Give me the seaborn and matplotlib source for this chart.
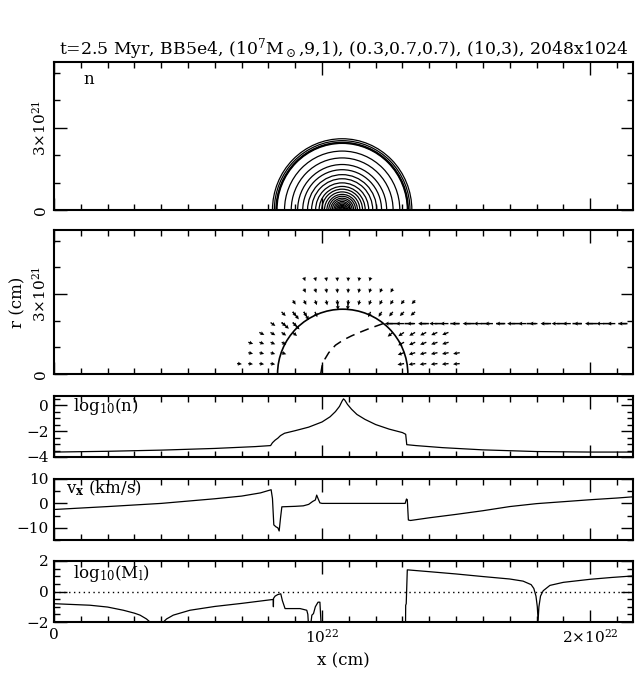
import numpy as np
import pandas as pd
import matplotlib
matplotlib.use("Agg")
import matplotlib.pyplot as plt
from matplotlib.patches import Arc
from matplotlib.ticker import MultipleLocator, FixedLocator, FixedFormatter
import seaborn as sns

# ------------------------------------------------------------------ data
TITLE = r"t=2.5 Myr, BB5e4, (10$^7$M$_\odot$,9,1), (0.3,0.7,0.7), (10,3), 2048x1024"
X_MAX = 2.16e22
R_MAX = 5.4e21

# panel 1 : density contours (rings about the cloud centre), radii in 1e21 cm
CLOUD_X = 1.075e22
CONTOUR_RADII = [2.60, 2.53, 2.47, 2.45, 2.43, 2.15, 1.90, 1.66, 1.47, 1.29,
                 1.14, 0.99, 0.86, 0.76, 0.66, 0.57, 0.50, 0.43, 0.37, 0.31,
                 0.26, 0.21, 0.17, 0.13, 0.10, 0.07]

# panel 2 : shell (solid), tracer front (dashed), velocity arrows
BUBBLE_X = 1.077e22
BUBBLE_R = 2.43e21
FRONT_X = [0.995, 1.000, 1.010, 1.025, 1.050, 1.080, 1.110, 1.140, 1.170, 1.200, 1.228, 2.16]   # 1e22 cm
FRONT_R = [0.00, 0.30, 0.55, 0.80, 1.08, 1.28, 1.43, 1.56, 1.68, 1.79, 1.89, 1.89]              # 1e21 cm
ARROW_STEP = 0.0415          # grid spacing of arrows, 1e22 cm
# (row r [1e21], first x [1e22], last x [1e22], arrow length [1e21])
ARROW_SPANS = [
    (0.39, 0.683, 0.808, 0.18), (0.39, 1.306, 1.513, 0.25),
    (0.80, 0.725, 0.849, 0.18), (0.80, 1.306, 1.513, 0.25),
    (1.19, 0.725, 0.849, 0.19), (1.19, 1.306, 1.472, 0.25),
    (1.56, 0.766, 0.891, 0.21), (1.56, 1.264, 1.472, 0.25),
    (1.93, 0.808, 0.891, 0.22),
    (2.33, 0.849, 0.974, 0.22), (2.33, 1.181, 1.347, 0.22),
    (2.76, 0.891, 1.349, 0.19),
    (3.20, 0.932, 1.266, 0.17),
    (3.62, 0.932, 1.183, 0.15),
]
SHELL_ARROW_X = [0.849, 0.891, 0.891, 0.932, 1.057, 1.098]
SHELL_ARROW_R = [1.93, 1.93, 2.33, 2.33, 2.76, 2.76]
SHELL_ARROW_LEN = 0.36
STREAK_R = 1.89
STREAK_X0, STREAK_X1 = 1.264, 2.135
STREAK_LEN = 0.30

# panel 3 : log10(n) along the axis
LOGN_X = [0, 0.2, 0.4, 0.6, 0.75, 0.808, 0.815, 0.825, 0.835, 0.845, 0.86, 0.9,
          0.95, 1.0, 1.03, 1.05, 1.065, 1.075, 1.08, 1.085, 1.095, 1.11, 1.13,
          1.16, 1.2, 1.25, 1.3, 1.312, 1.316, 1.35, 1.45, 1.6, 1.8, 2.0, 2.16]
LOGN_Y = [-3.62, -3.56, -3.47, -3.34, -3.2, -3.12, -2.9, -2.7, -2.55, -2.35, -2.17, -1.97,
          -1.7, -1.3, -0.9, -0.5, -0.1, 0.32, 0.48, 0.38, 0.05, -0.32, -0.72,
          -1.1, -1.5, -1.85, -2.12, -2.25, -3.05, -3.12, -3.28, -3.45, -3.58, -3.62, -3.62]

# panel 4 : v_x (km/s)
VX_X = [0, 0.2, 0.4, 0.6, 0.7, 0.77, 0.81, 0.815, 0.82, 0.828, 0.835, 0.84, 0.845,
        0.85, 0.9, 0.93, 0.95, 0.965, 0.975, 0.98, 0.985, 0.992, 1.0, 1.1, 1.2,
        1.31, 1.315, 1.318, 1.322, 1.33, 1.4, 1.5, 1.6, 1.7, 1.8, 1.9, 2.0, 2.1, 2.16]
VX_Y = [-2.5, -1.3, 0.0, 1.9, 3.0, 4.3, 5.6, 2.0, -8.8, -9.6, -10.0, -11.3, -6.0,
        -1.4, -1.2, -1.0, -0.4, 0.8, 1.4, 3.4, 2.0, 0.2, 0.0, 0.0, 0.0,
        0.0, 1.8, 1.5, -6.8, -7.0, -5.9, -4.5, -3.0, -1.3, -0.1, 0.7, 1.5, 2.2, 2.7]

# panel 5 : log10(M_l)
ML_X = [0, 0.134, 0.2, 0.259, 0.3, 0.321, 0.345, 0.358, 0.383, 0.408, 0.42, 0.445,
        0.507, 0.6, 0.7, 0.818, 0.8185, 0.819, 0.825, 0.835, 0.846, 0.852, 0.862,
        0.918, 0.943, 0.947, 0.952, 0.962, 0.968, 0.975, 0.985, 0.992, 0.999, 1.1,
        1.2, 1.311, 1.312, 1.314, 1.318, 1.4, 1.5, 1.6, 1.7, 1.75, 1.78, 1.79,
        1.798, 1.803, 1.806, 1.809, 1.815, 1.825, 1.85, 1.9, 2.0, 2.08, 2.16]
ML_Y = [-0.8, -0.9, -1.02, -1.23, -1.42, -1.55, -1.8, -2.0, -3.0, -2.0, -1.8, -1.55,
        -1.23, -0.98, -0.78, -0.52, -1.0, -0.45, -0.3, -0.2, -0.15, -0.6, -1.12,
        -1.12, -1.23, -1.5, -3.0, -1.55, -1.45, -1.0, -0.7, -0.7, -3.0, -3.0,
        -3.0, -3.0, -0.9, -0.8, 1.42, 1.3, 1.15, 0.98, 0.82, 0.68, 0.45, 0.2,
        -0.3, -1.0, -1.9, -1.0, -0.3, 0.05, 0.4, 0.6, 0.8, 0.92, 1.02]

# ------------------------------------------------------------------ style
sns.set_theme(style="ticks")
plt.rcParams["font.family"] = ["DejaVu Serif"]
plt.rcParams["mathtext.fontset"] = "dejavuserif"
plt.rcParams["axes.linewidth"] = 1.5
for key in ["text.color", "axes.labelcolor", "xtick.color", "ytick.color",
            "xtick.labelcolor", "ytick.labelcolor", "axes.edgecolor"]:
    plt.rcParams[key] = "black"
FS = 11

W, H = 635, 674
fig = plt.figure(figsize=(W / 100, H / 100), dpi=100)


def add_axes(top, bottom, left=54, right=633):
    return fig.add_axes([left / W, 1 - bottom / H, (right - left) / W, (bottom - top) / H])


panels = [add_axes(62, 210), add_axes(230, 374), add_axes(396, 457),
          add_axes(479, 540), add_axes(561, 622)]

for i, ax in enumerate(panels):
    ax.set_xlim(0, X_MAX)
    ax.xaxis.set_major_locator(FixedLocator([0, 1e22, 2e22]))
    ax.xaxis.set_minor_locator(MultipleLocator(1e21))
    ax.tick_params(which="both", direction="in", top=True, right=True,
                   width=1.0, colors="black", labelsize=FS, pad=4)
    ax.tick_params(which="major", length=9)
    ax.tick_params(which="minor", length=4.5)
    for s in ax.spines.values():
        s.set_color("black")
        s.set_linewidth(1.5)
    if i < 4:
        ax.tick_params(labelbottom=False)

# ---- panel 1
ax = panels[0]
ax.set_ylim(0, R_MAX)
for rad in CONTOUR_RADII:
    ax.add_patch(Arc((CLOUD_X, 0), 2 * rad * 1e21, 2 * rad * 1e21, theta1=0, theta2=180,
                     color="black", lw=0.9))
ax.text(0.06, 0.88, "n", transform=ax.transAxes, ha="center", va="center", fontsize=12)
ax.set_title(TITLE, fontsize=12.4, pad=5, color="black")

# ---- panel 2
ax = panels[1]
ax.set_ylim(0, R_MAX)
ax.add_patch(Arc((BUBBLE_X, 0), 2 * BUBBLE_R, 2 * BUBBLE_R, theta1=0, theta2=180,
                 color="black", lw=1.2))
front = pd.DataFrame({"x": np.array(FRONT_X) * 1e22, "r": np.array(FRONT_R) * 1e21})
sns.lineplot(data=front, x="x", y="r", sort=False, estimator=None, ax=ax,
             color="black", lw=1.1, dashes=False, linestyle=(0, (6, 4)))

qx, qr, qu, qv = [], [], [], []
for r, x0, x1, ln in ARROW_SPANS:
    xs = np.arange(x0, x1 + ARROW_STEP / 2, ARROW_STEP) * 1e22
    dx = BUBBLE_X - xs
    dy = -r * 1e21 * np.ones_like(xs)
    d = np.hypot(dx, dy)
    qx += list(xs); qr += [r * 1e21] * len(xs)
    qu += list(ln * 1e21 * dx / d); qv += list(ln * 1e21 * dy / d)
for x, r in zip(SHELL_ARROW_X, SHELL_ARROW_R):
    dx, dy = BUBBLE_X - x * 1e22, -r * 1e21
    d = np.hypot(dx, dy)
    qx.append(x * 1e22); qr.append(r * 1e21)
    qu.append(SHELL_ARROW_LEN * 1e21 * dx / d); qv.append(SHELL_ARROW_LEN * 1e21 * dy / d)
sx = np.arange(STREAK_X0, STREAK_X1 + ARROW_STEP / 2, ARROW_STEP) * 1e22
qx += list(sx); qr += [STREAK_R * 1e21] * len(sx)
qu += [-STREAK_LEN * 1e21] * len(sx); qv += [0.0] * len(sx)
ax.quiver(qx, qr, qu, qv, angles="xy", scale_units="xy", scale=1, units="dots",
          width=1.35, headwidth=3.0, headlength=3.0, headaxislength=2.6, color="black",
          clip_on=True)
ax.set_ylabel("r (cm)", fontsize=FS + 1, labelpad=3)

for ax in panels[:2]:
    ax.yaxis.set_major_locator(FixedLocator([0, 3e21]))
    ax.yaxis.set_major_formatter(FixedFormatter(["0", r"3$\times$10$^{21}$"]))
    ax.yaxis.set_minor_locator(MultipleLocator(1e21))
    for lab in ax.get_yticklabels():
        lab.set_rotation(90)
        lab.set_va("center")
    ax.set_xlabel("")

# ---- panel 3
ax = panels[2]
sns.lineplot(x=np.array(LOGN_X) * 1e22, y=LOGN_Y, sort=False, estimator=None, ax=ax,
             color="black", lw=0.9)
ax.set_ylim(-4, 0.7)
ax.yaxis.set_major_locator(MultipleLocator(2))
ax.yaxis.set_minor_locator(MultipleLocator(0.5))
ax.text(0.033, 0.83, r"log$_{10}$(n)", transform=ax.transAxes, ha="left", va="center",
        fontsize=FS + 1)

# ---- panel 4
ax = panels[3]
sns.lineplot(x=np.array(VX_X) * 1e22, y=VX_Y, sort=False, estimator=None, ax=ax,
             color="black", lw=0.9)
ax.set_ylim(-15, 10)
ax.yaxis.set_major_locator(MultipleLocator(10))
ax.yaxis.set_minor_locator(MultipleLocator(5))
ax.text(0.021, 0.84, r"v$_{\mathbf{x}}$ (km/s)", transform=ax.transAxes, ha="left",
        va="center", fontsize=FS + 1)

# ---- panel 5
ax = panels[4]
ax.axhline(0, color="black", lw=1.0, ls=(0, (1, 2.5)))
sns.lineplot(x=np.array(ML_X) * 1e22, y=ML_Y, sort=False, estimator=None, ax=ax,
             color="black", lw=0.9)
ax.set_ylim(-2, 2)
ax.yaxis.set_major_locator(MultipleLocator(2))
ax.yaxis.set_minor_locator(MultipleLocator(0.5))
ax.text(0.033, 0.80, r"log$_{10}$(M$_{\rm l}$)", transform=ax.transAxes, ha="left",
        va="center", fontsize=FS + 1)
ax.xaxis.set_major_formatter(FixedFormatter(["0", r"10$^{22}$", r"2$\times$10$^{22}$"]))
ax.set_xlabel("x (cm)", fontsize=FS + 1, labelpad=5)

for ax in panels:
    ax.set_facecolor("white")
    if ax is not panels[4]:
        ax.set_xlabel("")
    if ax is not panels[1]:
        ax.set_ylabel("")

fig.savefig("out.png", dpi=100, facecolor="white")
